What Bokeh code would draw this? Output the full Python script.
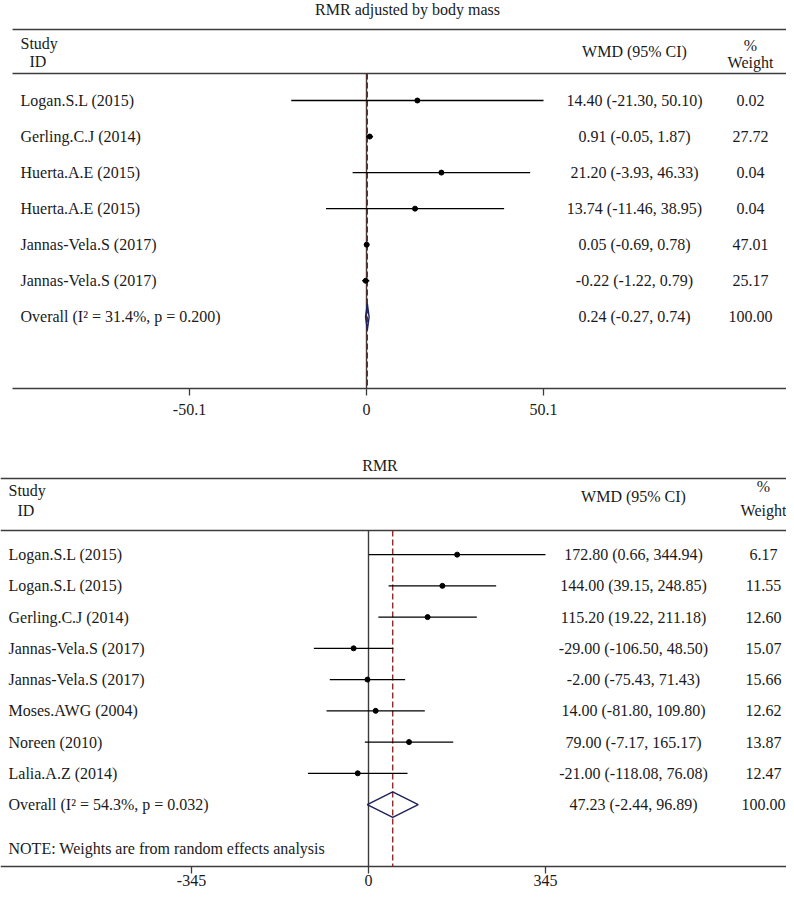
from bokeh.plotting import figure
from bokeh.models import Range1d, FixedTicker
from bokeh.layouts import column
from bokeh.core.properties import value
from bokeh.embed import file_html
from bokeh.resources import INLINE

# ---------------- data: panel A ----------------
title_a = "RMR adjusted by body mass"
studies_a = ["Logan.S.L (2015)", "Gerling.C.J (2014)", "Huerta.A.E (2015)",
             "Huerta.A.E (2015)", "Jannas-Vela.S (2017)", "Jannas-Vela.S (2017)"]
wmd_a = [14.40, 0.91, 21.20, 13.74, 0.05, -0.22]
lo_a = [-21.30, -0.05, -3.93, -11.46, -0.69, -1.22]
hi_a = [50.10, 1.87, 46.33, 38.95, 0.78, 0.79]
weight_a = [0.02, 27.72, 0.04, 0.04, 47.01, 25.17]
overall_a = [0.24, -0.27, 0.74]
i2_a = 31.4
p_a = 0.200
ticks_a = [-50.1, 0, 50.1]
tick_labels_a = ["-50.1", "0", "50.1"]

# ---------------- data: panel B ----------------
title_b = "RMR"
studies_b = ["Logan.S.L (2015)", "Logan.S.L (2015)", "Gerling.C.J (2014)",
             "Jannas-Vela.S (2017)", "Jannas-Vela.S (2017)", "Moses.AWG (2004)",
             "Noreen (2010)", "Lalia.A.Z (2014)"]
wmd_b = [172.80, 144.00, 115.20, -29.00, -2.00, 14.00, 79.00, -21.00]
lo_b = [0.66, 39.15, 19.22, -106.50, -75.43, -81.80, -7.17, -118.08]
hi_b = [344.94, 248.85, 211.18, 48.50, 71.43, 109.80, 165.17, 76.08]
weight_b = [6.17, 11.55, 12.60, 15.07, 15.66, 12.62, 13.87, 12.47]
overall_b = [47.23, -2.44, 96.89]
i2_b = 54.3
p_b = 0.032
ticks_b = [-345, 0, 345]
tick_labels_b = ["-345", "0", "345"]
note_b = "NOTE: Weights are from random effects analysis"

FONT = "Liberation Serif"
FS = "16px"
TXT = "#1a1a1a"
LINE = "#3c3c3c"
DASH = "#8b1a1a"
NAVY = "#1f1f5c"
W = 786


def panel(title, studies, wmd, lo, hi, weight, overall, i2, pv, ticks, tick_labels,
          L, note=None):
    ppu = L["ppu"]
    x0 = L["px_zero"]
    xr = Range1d((0 - x0) / ppu, (W - x0) / ppu)
    ybot = L["y_axis"] + L["y_pad"]
    p = figure(width=W, height=L["height"], output_backend="svg",
               toolbar_location=None, x_range=xr,
               y_range=Range1d(ybot, L["y_top"]),
               y_axis_location=None, min_border_left=0,
               min_border_right=0, min_border_top=0,
               min_border_bottom=L["border_bottom"])
    p.extra_x_ranges = {"px": Range1d(0, W)}
    p.outline_line_color = None
    p.xgrid.visible = False
    p.ygrid.visible = False
    p.background_fill_color = "white"
    p.border_fill_color = "white"

    ax = p.xaxis[0]
    ax.ticker = FixedTicker(ticks=ticks)
    ax.major_label_overrides = {t: s for t, s in zip(ticks, tick_labels)}
    ax.minor_tick_line_color = None
    ax.major_tick_in = L["tick_in"]
    ax.major_tick_out = 5
    ax.major_tick_line_color = LINE
    ax.major_tick_line_width = 1.3
    ax.axis_line_color = None
    ax.major_label_text_font = FONT
    ax.major_label_text_font_size = FS
    ax.major_label_text_color = TXT
    ax.major_label_standoff = L["standoff"]

    n = len(studies)
    rows = [L["row0"] + L["step"] * k for k in range(n)]
    y_ov = L["row0"] + L["step"] * n

    tf = value(FONT)
    # title
    p.text(x=[L["title_x"]], y=[L["title_y"]], text=[title], x_range_name="px",
           text_font=tf, text_font_size=FS, text_color=TXT,
           text_align="center", text_baseline="middle")
    # header rules and axis base line
    ys = L["rules"] + [L["y_axis"]]
    p.segment(x0=[L["rule_left"]] * 3, x1=[W] * 3, y0=ys, y1=ys,
              x_range_name="px", line_color=LINE, line_width=1.6)
    # headers
    p.text(x=[L["study_x"], L["id_x"]], y=[L["study_y"], L["id_y"]],
           text=["Study", "ID"], x_range_name="px", text_font=tf,
           text_font_size=FS, text_color=TXT, text_align="left",
           text_baseline="middle")
    p.text(x=[L["wmd_x"], L["w_x"], L["w_x"]],
           y=[L["wmd_y"], L["pct_y"], L["weight_y"]],
           text=["WMD (95% CI)", "%", "Weight"], x_range_name="px", text_font=tf,
           text_font_size=FS, text_color=TXT, text_align="center",
           text_baseline="middle")

    # reference lines
    p.segment(x0=[0], x1=[0], y0=[L["rules"][1]], y1=[L["y_axis"]],
              line_color=LINE, line_width=1.4)
    p.segment(x0=[overall[0]], x1=[overall[0]], y0=[L["rules"][1]],
              y1=[L["y_axis"]], line_color=DASH, line_width=1.3,
              line_dash="6 3")

    # CIs and points
    p.segment(x0=lo, x1=hi, y0=rows, y1=rows, line_color="black", line_width=1.3)
    p.scatter(x=wmd, y=rows, size=5, marker="circle", fill_color="black",
              line_color="black")

    # overall diamond
    h = L["dh"]
    p.patch(x=[overall[1], overall[0], overall[2], overall[0]],
            y=[y_ov, y_ov - h, y_ov, y_ov + h], fill_color=None,
            line_color=NAVY, line_width=1.4)

    # labels
    labels = list(studies) + [f"Overall (I\u00b2 = {i2:.1f}%, p = {pv:.3f})"]
    p.text(x=[L["label_x"]] * (n + 1), y=rows + [y_ov], text=labels,
           x_range_name="px", text_font=tf, text_font_size=FS, text_color=TXT,
           text_align="left", text_baseline="middle")
    ci_txt = [f"{m:.2f} ({a:.2f}, {b:.2f})" for m, a, b in zip(wmd, lo, hi)]
    ci_txt.append(f"{overall[0]:.2f} ({overall[1]:.2f}, {overall[2]:.2f})")
    p.text(x=[L["wmd_x"]] * (n + 1), y=rows + [y_ov], text=ci_txt,
           x_range_name="px", text_font=tf, text_font_size=FS, text_color=TXT,
           text_align="center", text_baseline="middle")
    w_txt = [f"{w:.2f}" for w in weight] + ["100.00"]
    p.text(x=[L["w_x"]] * (n + 1), y=rows + [y_ov], text=w_txt,
           x_range_name="px", text_font=tf, text_font_size=FS, text_color=TXT,
           text_align="center", text_baseline="middle")
    if note:
        p.text(x=[L["label_x"]], y=[L["note_y"]], text=[note], x_range_name="px",
               text_font=tf, text_font_size=FS, text_color=TXT,
               text_align="left", text_baseline="middle")
    return p


LA = dict(height=422, border_bottom=32, px_zero=366, ppu=177 / 50.1,
          y_axis=388, y_pad=2, y_top=0, tick_in=2, standoff=8,
          title_x=407, title_y=8.5, rules=[29, 73], rule_left=12,
          study_x=20, id_x=29, study_y=43, id_y=61,
          wmd_x=634, wmd_y=51, w_x=750, pct_y=45, weight_y=62,
          row0=100, step=36.05, dh=13, label_x=20)
LB = dict(height=467, border_bottom=21, px_zero=368, ppu=177 / 345,
          y_axis=880, y_pad=2, y_top=428, tick_in=2, standoff=1,
          title_x=379.5, title_y=471.7, rules=[485, 538], rule_left=0,
          study_x=8, id_x=17, study_y=497, id_y=518,
          wmd_x=633, wmd_y=503.5, w_x=763, pct_y=493, weight_y=518,
          row0=562.5, step=31.8, dh=13, label_x=8, note_y=861.7)

pa = panel(title_a, studies_a, wmd_a, lo_a, hi_a, weight_a, overall_a, i2_a, p_a,
           ticks_a, tick_labels_a, LA)
pb = panel(title_b, studies_b, wmd_b, lo_b, hi_b, weight_b, overall_b, i2_b, p_b,
           ticks_b, tick_labels_b, LB, note=note_b)

layout = column(pa, pb, spacing=0)
open("out.html", "w").write(file_html(layout, INLINE))
